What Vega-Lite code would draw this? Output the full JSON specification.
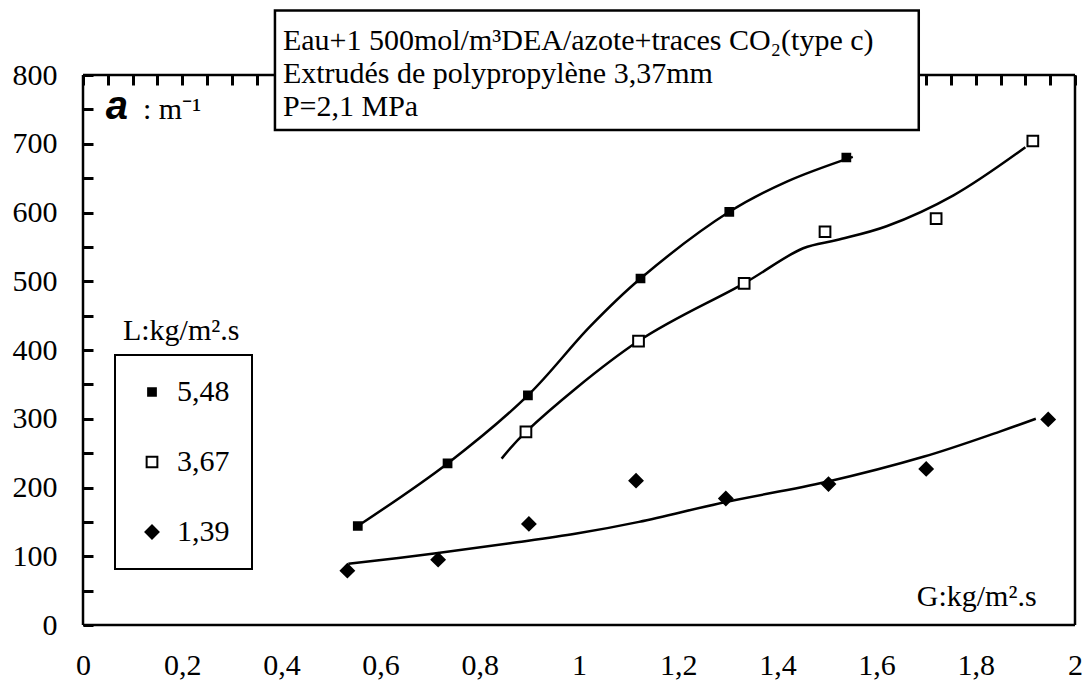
{
  "$schema": "https://vega.github.io/schema/vega-lite/v6.json",
  "autosize": {"type": "none"},
  "width": 992,
  "height": 550,
  "padding": {"left": 83, "top": 75, "right": 11, "bottom": 59},
  "background": "white",
  "config": {
    "view": {"stroke": null},
    "font": "Liberation Serif",
    "axis": {
      "title": null,
      "domain": false,
      "ticks": false,
      "tickSize": 0,
      "grid": true,
      "gridColor": "black",
      "gridWidth": 3,
      "gridOpacity": 1,
      "gridDash": [10, 3000],
      "labelFont": "Liberation Serif",
      "labelFontSize": 30,
      "labelColor": "black",
      "labelFlush": false,
      "labelOverlap": false,
      "labelBound": false
    },
    "legend": {
      "orient": "none",
      "legendX": 32,
      "legendY": 280,
      "title": null,
      "strokeColor": "black",
      "strokeWidth": 2,
      "fillColor": "white",
      "padding": 22,
      "rowPadding": 40,
      "labelFont": "Liberation Serif",
      "labelFontSize": 30,
      "labelColor": "black",
      "labelOffset": 10,
      "symbolStrokeWidth": 2
    }
  },
  "datasets": {
    "points": [
      {"L": "5,48", "G": 0.554, "a": 144},
      {"L": "5,48", "G": 0.735, "a": 235},
      {"L": "5,48", "G": 0.897, "a": 334},
      {"L": "5,48", "G": 1.124, "a": 504},
      {"L": "5,48", "G": 1.303, "a": 601},
      {"L": "5,48", "G": 1.539, "a": 680},
      {"L": "3,67", "G": 0.893, "a": 281},
      {"L": "3,67", "G": 1.12, "a": 413},
      {"L": "3,67", "G": 1.333, "a": 497},
      {"L": "3,67", "G": 1.496, "a": 572},
      {"L": "3,67", "G": 1.72, "a": 591},
      {"L": "3,67", "G": 1.915, "a": 704},
      {"L": "1,39", "G": 0.533, "a": 79},
      {"L": "1,39", "G": 0.716, "a": 95},
      {"L": "1,39", "G": 0.899, "a": 147},
      {"L": "1,39", "G": 1.115, "a": 210},
      {"L": "1,39", "G": 1.296, "a": 184},
      {"L": "1,39", "G": 1.503, "a": 205},
      {"L": "1,39", "G": 1.7, "a": 227},
      {"L": "1,39", "G": 1.946, "a": 299}
    ],
    "curves": [
      {"L": "5,48", "G": 0.554, "a": 144},
      {"L": "5,48", "G": 0.735, "a": 235},
      {"L": "5,48", "G": 0.897, "a": 334},
      {"L": "5,48", "G": 1.022, "a": 434},
      {"L": "5,48", "G": 1.124, "a": 504},
      {"L": "5,48", "G": 1.303, "a": 601},
      {"L": "5,48", "G": 1.419, "a": 645},
      {"L": "5,48", "G": 1.552, "a": 681},
      {"L": "3,67", "G": 0.844, "a": 242},
      {"L": "3,67", "G": 0.893, "a": 281},
      {"L": "3,67", "G": 1.12, "a": 413},
      {"L": "3,67", "G": 1.333, "a": 497},
      {"L": "3,67", "G": 1.452, "a": 548},
      {"L": "3,67", "G": 1.52, "a": 560},
      {"L": "3,67", "G": 1.62, "a": 580},
      {"L": "3,67", "G": 1.755, "a": 625},
      {"L": "3,67", "G": 1.9, "a": 695},
      {"L": "1,39", "G": 0.535, "a": 89},
      {"L": "1,39", "G": 0.708, "a": 104},
      {"L": "1,39", "G": 0.861, "a": 119},
      {"L": "1,39", "G": 0.995, "a": 133},
      {"L": "1,39", "G": 1.121, "a": 150},
      {"L": "1,39", "G": 1.296, "a": 179},
      {"L": "1,39", "G": 1.498, "a": 208},
      {"L": "1,39", "G": 1.696, "a": 245},
      {"L": "1,39", "G": 1.847, "a": 281},
      {"L": "1,39", "G": 1.921, "a": 300}
    ]
  },
  "encoding": {
    "x": {
      "type": "quantitative",
      "scale": {"domain": [0, 2], "nice": false, "zero": false},
      "axis": {
        "values": [0, 0.05, 0.1, 0.15, 0.2, 0.25, 0.3, 0.35, 0.4, 0.45, 0.5, 0.55, 0.6, 0.65, 0.7, 0.75, 0.8, 0.85, 0.9, 0.95, 1, 1.05, 1.1, 1.15, 1.2, 1.25, 1.3, 1.35, 1.4, 1.45, 1.5, 1.55, 1.6, 1.65, 1.7, 1.75, 1.8, 1.85, 1.9, 1.95, 2],
        "labelExpr": "abs(datum.value*5 - round(datum.value*5)) < 0.001 ? replace(format(datum.value, '~g'), '.', ',') : ''",
        "labelPadding": 25
      }
    },
    "y": {
      "type": "quantitative",
      "scale": {"domain": [0, 800], "nice": false, "zero": false},
      "axis": {
        "values": [0, 50, 100, 150, 200, 250, 300, 350, 400, 450, 500, 550, 600, 650, 700, 750, 800],
        "labelExpr": "datum.value % 100 == 0 ? format(datum.value, 'd') : ''",
        "labelPadding": 26
      }
    }
  },
  "layer": [
    {
      "data": {"values": [{}]},
      "mark": {"type": "rule", "color": "black", "strokeWidth": 2.5},
      "encoding": {"x": {"datum": 0}, "x2": {"datum": 2}, "y": {"datum": 800}}
    },
    {
      "data": {"values": [{}]},
      "mark": {"type": "rule", "color": "black", "strokeWidth": 2.5},
      "encoding": {"x": {"datum": 0}, "x2": {"datum": 2}, "y": {"datum": 0}}
    },
    {
      "data": {"values": [{}]},
      "mark": {"type": "rule", "color": "black", "strokeWidth": 2.5},
      "encoding": {"x": {"datum": 2}, "y": {"datum": 0}, "y2": {"datum": 800}}
    },
    {
      "data": {"values": [{}]},
      "mark": {"type": "rule", "color": "black", "strokeWidth": 2.5},
      "encoding": {"x": {"datum": 0}, "y": {"datum": 0}, "y2": {"datum": 800}}
    },
    {
      "data": {"name": "curves"},
      "mark": {"type": "line", "color": "black", "strokeWidth": 2.5, "interpolate": "catmull-rom"},
      "encoding": {
        "x": {"field": "G"},
        "y": {"field": "a"},
        "detail": {"field": "L", "type": "nominal"}
      }
    },
    {
      "data": {"name": "points"},
      "mark": {"type": "point", "strokeWidth": 2, "opacity": 1},
      "encoding": {
        "x": {"field": "G"},
        "y": {"field": "a"},
        "shape": {"field": "L", "type": "nominal", "scale": {"domain": ["5,48", "3,67", "1,39"], "range": ["square", "square", "diamond"]}},
        "fill": {"field": "L", "type": "nominal", "scale": {"domain": ["5,48", "3,67", "1,39"], "range": ["black", "white", "black"]}},
        "stroke": {"field": "L", "type": "nominal", "scale": {"domain": ["5,48", "3,67", "1,39"], "range": ["black", "black", "black"]}},
        "size": {"field": "L", "type": "nominal", "scale": {"domain": ["5,48", "3,67", "1,39"], "range": [60, 170, 55]}}
      }
    },
    {
      "data": {"values": [{}]},
      "mark": {"type": "rect", "fill": "white", "stroke": "black", "strokeWidth": 2.5},
      "encoding": {"x": {"datum": 0.387}, "x2": {"datum": 1.685}, "y": {"datum": 894}, "y2": {"datum": 720}}
    },
    {
      "data": {"values": [{}]},
      "mark": {"type": "text", "align": "left", "baseline": "alphabetic", "fontSize": 30, "font": "Liberation Serif", "color": "black", "text": "Eau+1 500mol/m³DEA/azote+traces CO₂(type c)"},
      "encoding": {"x": {"datum": 0.403}, "y": {"datum": 836}}
    },
    {
      "data": {"values": [{}]},
      "mark": {"type": "text", "align": "left", "baseline": "alphabetic", "fontSize": 30, "font": "Liberation Serif", "color": "black", "text": "Extrudés de polypropylène 3,37mm"},
      "encoding": {"x": {"datum": 0.403}, "y": {"datum": 788}}
    },
    {
      "data": {"values": [{}]},
      "mark": {"type": "text", "align": "left", "baseline": "alphabetic", "fontSize": 30, "font": "Liberation Serif", "color": "black", "text": "P=2,1 MPa"},
      "encoding": {"x": {"datum": 0.403}, "y": {"datum": 740}}
    },
    {
      "data": {"values": [{}]},
      "mark": {"type": "text", "align": "left", "baseline": "alphabetic", "fontSize": 40, "font": "Liberation Sans", "fontStyle": "italic", "fontWeight": "bold", "color": "black", "text": "a"},
      "encoding": {"x": {"datum": 0.046}, "y": {"datum": 736}}
    },
    {
      "data": {"values": [{}]},
      "mark": {"type": "text", "align": "left", "baseline": "alphabetic", "fontSize": 30, "font": "Liberation Serif", "color": "black", "text": ": m⁻¹"},
      "encoding": {"x": {"datum": 0.121}, "y": {"datum": 736}}
    },
    {
      "data": {"values": [{}]},
      "mark": {"type": "text", "align": "left", "baseline": "alphabetic", "fontSize": 30, "font": "Liberation Serif", "color": "black", "text": "G:kg/m².s"},
      "encoding": {"x": {"datum": 1.681}, "y": {"datum": 27}}
    },
    {
      "data": {"values": [{}]},
      "mark": {"type": "text", "align": "center", "baseline": "alphabetic", "fontSize": 30, "font": "Liberation Serif", "color": "black", "text": "L:kg/m².s"},
      "encoding": {"x": {"datum": 0.198}, "y": {"datum": 414}}
    }
  ]
}
